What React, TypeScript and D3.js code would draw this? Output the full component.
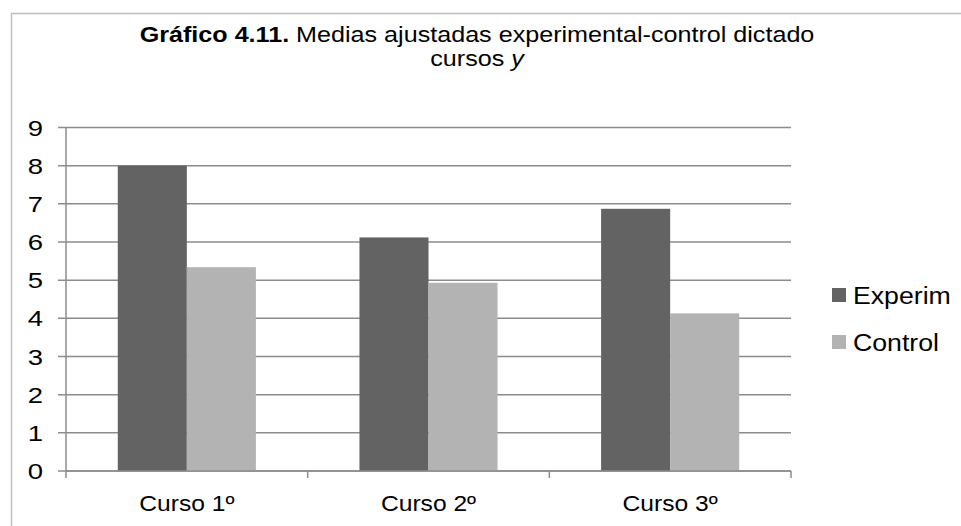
import React from "react";
import * as d3 from "d3";

const categories = ["Curso 1º", "Curso 2º", "Curso 3º"];
const seriesNames = ["Experim", "Control"];
const experim = [8.0, 6.12, 6.87];
const control = [5.34, 4.93, 4.13];
const yTicks = [0, 1, 2, 3, 4, 5, 6, 7, 8, 9];

const W = 961;
const H = 526;
const colors: Record<string, string> = { Experim: "#636363", Control: "#b3b3b3" };
const FONT = "Liberation Sans, Arial, sans-serif";
const SX = 1.15;

function T(props: { x: number; y: number; size: number; anchor?: string; sx?: number; children: React.ReactNode }) {
  const { x, y, size, anchor = "start", sx = SX, children } = props;
  return (
    <text transform={`translate(${x},${y}) scale(${sx},1)`} textAnchor={anchor} fontSize={size} fill="#000">
      {children}
    </text>
  );
}

export default function App() {
  const x0 = d3.scaleBand<string>().domain(categories).range([66, 791]).paddingInner(0).paddingOuter(0);
  const x1 = d3.scaleBand<string>().domain(seriesNames).range([0, x0.bandwidth()]).paddingInner(0).paddingOuter(0.75);
  const y = d3.scaleLinear().domain([0, 9]).range([471, 127.5]);
  const values: Record<string, number[]> = { Experim: experim, Control: control };

  return (
    <div style={{ position: "absolute", left: 0, top: 0 }}>
      <svg width={W} height={H} style={{ display: "block", fontFamily: FONT }}>
        <rect x={0} y={0} width={W} height={H} fill="#fff" />
        <rect x={11.5} y={13.5} width={W} height={H} fill="none" stroke="#bdbdbd" strokeWidth={1.5} />
        <T x={477} y={42} size={21.5} anchor="middle" sx={1.17}>
          <tspan fontWeight="bold">Gráfico 4.11.</tspan>
          <tspan> Medias ajustadas experimental-control dictado</tspan>
        </T>
        <T x={477} y={66} size={21.5} anchor="middle" sx={1.17}>
          cursos <tspan fontStyle="italic">y</tspan>
        </T>
        {yTicks.map((t) => (
          <g key={t}>
            <line x1={58} x2={791} y1={y(t)} y2={y(t)} stroke="#8c8c8c" strokeWidth={1.5} />
            <T x={43} y={y(t) + 8} size={22} anchor="end" sx={1.25}>
              {t}
            </T>
          </g>
        ))}
        <line x1={66} x2={66} y1={y(9)} y2={478} stroke="#8c8c8c" strokeWidth={1.5} />
        {categories.map((c, i) => (
          <line key={"tk" + i} x1={(x0(c) as number) + x0.bandwidth()} x2={(x0(c) as number) + x0.bandwidth()} y1={y(0)} y2={478} stroke="#8c8c8c" strokeWidth={1.5} />
        ))}
        {categories.map((c, i) =>
          seriesNames.map((s) => (
            <rect
              key={c + s}
              x={(x0(c) as number) + (x1(s) as number)}
              y={y(values[s][i])}
              width={x1.bandwidth()}
              height={y(0) - y(values[s][i])}
              fill={colors[s]}
            />
          ))
        )}
        <line x1={66} x2={791} y1={y(0)} y2={y(0)} stroke="#8c8c8c" strokeWidth={1.5} />
        {categories.map((c) => (
          <T key={"lbl" + c} x={(x0(c) as number) + x0.bandwidth() / 2} y={511} size={22} anchor="middle" sx={1.12}>
            {c}
          </T>
        ))}
        {seriesNames.map((s, i) => (
          <g key={"lg" + s}>
            <rect x={832} y={288 + i * 47} width={14} height={14} fill={colors[s]} />
            <T x={853} y={304 + i * 47} size={23} sx={1.16}>
              {s}
            </T>
          </g>
        ))}
      </svg>
    </div>
  );
}
